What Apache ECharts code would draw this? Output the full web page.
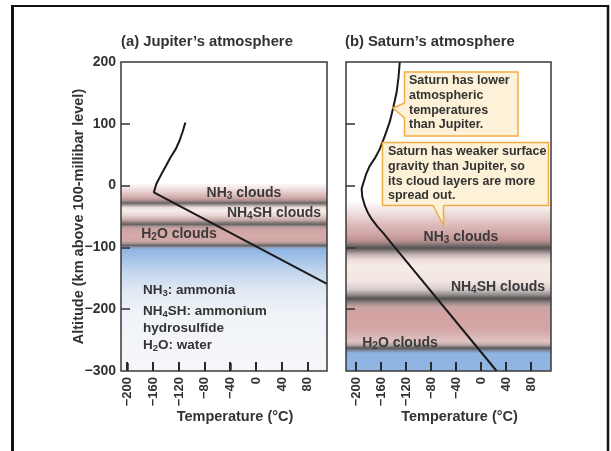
<!DOCTYPE html>
<html><head><meta charset="utf-8">
<script src="https://cdn.jsdelivr.net/npm/echarts@6/dist/echarts.min.js"></script>
<style>html,body{margin:0;padding:0;background:#fff}#c{width:611px;height:451px}</style>
</head><body><div id="c"></div>
<script>
// ---- data ----
const xTickValues = [-200, -160, -120, -80, -40, 0, 40, 80];
const yTickValues = [-300, -200, -100, 0, 100, 200];
const yInnerTicks = [-200, -100, 0, 100];

const jupiterTemp = [-110, -112, -114, -119, -125, -133, -140, -147, -152, -155, -159, 110];
const jupiterAlt  = [102, 95, 88, 73, 59, 46, 32, 19, 9, 3, -11, -159];

const saturnTemp = [-130, -132, -135, -140, -146, -154, -162, -170, -178, -184, -188, -191, -190, -186, -181, -175, -166, -157, -146, 25];
const saturnAlt  = [200, 175, 151, 128, 103, 80, 59, 44, 32, 18, 5, -5, -18, -32, -44, -54, -66, -76, -90, -300];

// cloud-layer shading: [altitude, colour]
const jupiterLayerAlt = [5, -2, -10, -20, -25, -28, -31, -35, -40, -48, -56, -60, -63, -66, -70, -80, -90, -94, -97, -100, -103, -115, -140, -170, -210, -300];
const jupiterLayerCol = ['#ffffff','#f6ebeb','#e8cfcf','#d0a8a8','#a48888','#676262','#9c9090','#e8dcda','#f6eeec','#ead6d4','#c6a8a8','#847a7a','#686464','#a89494','#cfa4a4','#d6acaa','#d0a6a4','#a08c8c','#646262','#8e9cb2','#8fb5e3','#a0c0e8','#c3d6ee','#e2e9f4','#f0f3f8','#f6f7fa'];
const saturnLayerAlt = [-25, -35, -50, -65, -80, -90, -96, -101, -106, -112, -120, -130, -155, -168, -176, -183, -189, -196, -210, -235, -252, -258, -263, -267, -271, -300];
const saturnLayerCol = ['#ffffff','#f7eeee','#ebd4d4','#dcb8b8','#cfa2a2','#b89090','#7e7272','#555252','#8a8080','#c8b4b4','#ecdcda','#f5ece8','#f2e6e2','#d6cccc','#999292','#545252','#8e8282','#c8a4a4','#d4a2a2','#d4a8a8','#e0c4c2','#b8a8a8','#5a5858','#7e8aa0','#8fb4e2','#92b6e2'];

const panelTitles = ["(a) Jupiter’s atmosphere", "(b) Saturn’s atmosphere"];
const xName = 'Temperature (°C)';
const yName = 'Altitude (km above 100-millibar level)';

// ---- layout ----
const FONT = "'Liberation Sans', Arial, sans-serif";
const TXT = '#333333';
const G = [
  {left: 121, top: 62, width: 206, height: 309, xmin: -210, xmax: 110},
  {left: 346, top: 62, width: 205, height: 309, xmin: -216, xmax: 112}
];
const YMIN = -300, YMAX = 200;

function pairs(xs, ys) { return xs.map((x, i) => [x, ys[i]]); }
function minus(v) { return String(v).replace('-', '\u2212'); }
function gradient(alts, cols) {
  const top = alts[0], bot = alts[alts.length - 1];
  return new echarts.graphic.LinearGradient(0, 0, 0, 1,
    alts.map((a, i) => ({offset: (top - a) / (top - bot), color: cols[i]})));
}

const chart = echarts.init(document.getElementById('c'), null, {renderer: 'canvas'});

const grids = G.map(g => ({left: g.left, top: g.top, width: g.width, height: g.height, containLabel: false}));

const xAxes = G.map((g, i) => ({
  type: 'value', gridIndex: i, min: g.xmin, max: g.xmax, z: 10,
  splitLine: {show: false},
  axisLine: {show: false, onZero: false},
  axisTick: {show: true, inside: true, length: 8, customValues: xTickValues, lineStyle: {color: '#333', width: 1.5}},
  axisLabel: {customValues: xTickValues, rotate: 90, margin: 6, formatter: minus,
    fontFamily: FONT, fontWeight: 'bold', fontSize: 13, color: TXT},
  name: xName, nameLocation: 'middle', nameGap: 38, nameMoveOverlap: false,
  nameTextStyle: {fontFamily: FONT, fontWeight: 'bold', fontSize: 14.5, color: TXT, padding: [0, 0, 0, 22]}
}));

const yAxes = G.map((g, i) => ({
  type: 'value', gridIndex: i, min: YMIN, max: YMAX, interval: 100, z: 10,
  splitLine: {show: false},
  axisLine: {show: false, onZero: false},
  axisTick: {show: true, inside: true, length: 9, customValues: yInnerTicks, lineStyle: {color: '#333', width: 1.5}},
  axisLabel: {show: i === 0, margin: 5, formatter: minus,
    fontFamily: FONT, fontWeight: 'bold', fontSize: 14, color: TXT},
  name: i === 0 ? yName : '', nameLocation: 'middle', nameGap: 35, nameMoveOverlap: false,
  nameTextStyle: {fontFamily: FONT, fontWeight: 'bold', fontSize: 14.5, color: TXT}
}));

const bandSeries = (i, alts, cols) => ({
  type: 'line', xAxisIndex: i, yAxisIndex: i, data: [], silent: true, z: 1,
  markArea: {
    silent: true,
    itemStyle: {color: gradient(alts, cols), opacity: 1, borderWidth: 0},
    emphasis: {disabled: true},
    label: {show: false},
    data: [[{yAxis: alts[0]}, {yAxis: alts[alts.length - 1] + 0.0001}]]
  }
});

const curve = (i, xs, ys) => ({
  type: 'line', xAxisIndex: i, yAxisIndex: i, data: pairs(xs, ys),
  showSymbol: false, symbol: 'none', smooth: false, silent: true, z: 5,
  clip: true,
  lineStyle: {color: '#1a1a1a', width: 2}
});

// ---- annotations ----
const rich = {
  b: {fontFamily: FONT, fontWeight: 'bold', fontSize: 14, fill: '#3a3a3a'},
  s: {fontFamily: FONT, fontWeight: 'bold', fontSize: 10, fill: '#3a3a3a', padding: [7, 0, 0, 0]},
  l: {fontFamily: FONT, fontWeight: 'bold', fontSize: 13.5, fill: '#333'},
  ls: {fontFamily: FONT, fontWeight: 'bold', fontSize: 9.5, fill: '#333', padding: [7, 0, 0, 0]}
};
function label(text, x, y, align) {
  return {type: 'text', x: x, y: y, z: 50, silent: true,
    style: {text: text, rich: rich, align: align || 'center', verticalAlign: 'middle'}};
}
const graphics = [];
// frame
graphics.push({type: 'line', z: 60, shape: {x1: 12.5, y1: 5, x2: 12.5, y2: 460}, style: {stroke: '#111', lineWidth: 3}});
graphics.push({type: 'line', z: 60, shape: {x1: 11, y1: 6, x2: 609, y2: 6}, style: {stroke: '#111', lineWidth: 2}});
graphics.push({type: 'line', z: 60, shape: {x1: 608, y1: 5, x2: 608, y2: 460}, style: {stroke: '#111', lineWidth: 2.5}});
// panel boxes, titles, bottom ticks
G.forEach((g, i) => {
  graphics.push({type: 'rect', z: 40, silent: true, shape: {x: g.left, y: g.top, width: g.width, height: g.height},
    style: {fill: 'none', stroke: '#3a3a3a', lineWidth: 1.5}});
  graphics.push({type: 'text', z: 40, x: g.left - (i === 0 ? 0 : 1), y: 42,
    style: {text: panelTitles[i], fontFamily: FONT, fontWeight: 'bold', fontSize: 14.8, fill: TXT, align: 'left', verticalAlign: 'middle'}});
  const bottom = g.top + g.height;
  xTickValues.forEach(v => {
    const px = g.left + (v - g.xmin) / (g.xmax - g.xmin) * g.width;
    graphics.push({type: 'rect', z: 61, silent: true, shape: {x: Math.round(px) - 1, y: bottom - 9, width: 2, height: 9},
      style: {fill: '#2a2a2a'}});
  });
});
// Jupiter cloud labels
graphics.push(label('{b|NH}{s|3}{b| clouds}', 244, 193));
graphics.push(label('{b|NH}{s|4}{b|SH clouds}', 274, 213));
graphics.push(label('{b|H}{s|2}{b|O clouds}', 179, 234));
// legend text
graphics.push(label('{l|NH}{ls|3}{l|: ammonia}', 143, 290, 'left'));
graphics.push(label('{l|NH}{ls|4}{l|SH: ammonium}', 143, 311, 'left'));
graphics.push(label('{l|hydrosulfide}', 143, 328, 'left'));
graphics.push(label('{l|H}{ls|2}{l|O: water}', 143, 345, 'left'));
// Saturn cloud labels
graphics.push(label('{b|NH}{s|3}{b| clouds}', 461, 237));
graphics.push(label('{b|NH}{s|4}{b|SH clouds}', 498, 287));
graphics.push(label('{b|H}{s|2}{b|O clouds}', 400, 343));
// callouts
const CB = '#f3ac45', CF = '#fdf1d8';
function callout(box, tri, triLine, lines, tx, ty) {
  graphics.push({type: 'rect', z: 45, shape: box, style: {fill: CF, stroke: CB, lineWidth: 1.5}});
  graphics.push({type: 'polygon', z: 46, shape: {points: tri}, style: {fill: CF, stroke: 'none'}});
  graphics.push({type: 'polyline', z: 47, shape: {points: triLine}, style: {fill: 'none', stroke: CB, lineWidth: 1.5}});
  graphics.push({type: 'text', z: 48, x: tx, y: ty, style: {text: lines.join('\n'), fontFamily: FONT, fontWeight: 'bold',
    fontSize: 12.5, lineHeight: 14.7, fill: '#333', align: 'left', verticalAlign: 'top'}});
}
callout({x: 404.5, y: 72, width: 113.5, height: 64},
  [[406, 103], [393, 108], [406, 118]], [[404.5, 103], [393, 108], [404.5, 118]],
  ['Saturn has lower', 'atmospheric', 'temperatures', 'than Jupiter.'], 409, 73.5);
callout({x: 382.5, y: 142.5, width: 166, height: 63},
  [[433, 204], [443.5, 225], [443.5, 204]], [[433, 205.5], [443.5, 225], [443.5, 205.5]],
  ['Saturn has weaker surface', 'gravity than Jupiter, so', 'its cloud layers are more', 'spread out.'], 388, 144.5);

chart.setOption({
  animation: false,
  backgroundColor: '#ffffff',
  grid: grids,
  xAxis: xAxes,
  yAxis: yAxes,
  series: [
    bandSeries(0, jupiterLayerAlt, jupiterLayerCol),
    bandSeries(1, saturnLayerAlt, saturnLayerCol),
    curve(0, jupiterTemp, jupiterAlt),
    curve(1, saturnTemp, saturnAlt)
  ],
  graphic: graphics
});
</script>
</body></html>
